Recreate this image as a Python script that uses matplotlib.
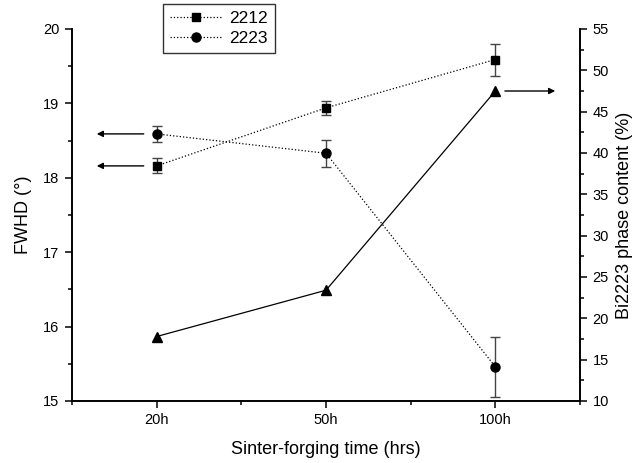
import matplotlib
matplotlib.use("Agg")
import matplotlib.pyplot as plt
from matplotlib.lines import Line2D
import numpy as np

plt.rcParams['font.family'] = ['Liberation Sans', 'DejaVu Sans']

# data
times = ["20h", "50h", "100h"]
fwhd_2212 = [18.16, 18.94, 19.59]
err_2212 = [0.10, 0.09, 0.215]
fwhd_2223 = [18.59, 18.33, 15.46]
err_2223 = [0.11, 0.18, 0.40]
bi2223 = [17.8, 23.4, 47.5]

x = np.arange(1, len(times) + 1)

fig = plt.figure(figsize=(6.39, 4.63), dpi=100)
ax = fig.add_axes([72/639, 1 - 401/463, (580-72)/639, (401-29)/463])
ax2 = ax.twinx()

ax.errorbar(x, fwhd_2212, yerr=err_2212, color='black', ls=':', lw=0.9,
            marker='s', ms=6, ecolor='#444444', elinewidth=1, capsize=3.5,
            capthick=1)
ax.errorbar(x, fwhd_2223, yerr=err_2223, color='black', ls=':', lw=0.9,
            marker='o', ms=6.5, ecolor='#444444', elinewidth=1, capsize=3.5,
            capthick=1)
ax2.plot(x, bi2223, color='black', ls='-', lw=0.9, marker='^', ms=7.5)

ax.set_xlim(0.5, 3.5)
ax.set_ylim(15, 20)
ax2.set_ylim(10, 55)

ax.set_xticks(x)
ax.set_xticklabels(times)
ax.set_xticks([0.5, 1.5, 2.5, 3.5], minor=True)
ax.set_yticks(np.arange(15, 21, 1))
ax.set_yticks(np.arange(15.5, 20, 1), minor=True)
ax2.set_yticks(np.arange(10, 56, 5))
ax2.set_yticks(np.arange(12.5, 55, 5), minor=True)

for a in (ax, ax2):
    a.spines['top'].set_visible(False)
    for s in a.spines.values():
        s.set_linewidth(1.2)
    a.tick_params(which='major', direction='out', length=5, width=1.1,
                  labelsize=10.5, pad=4)
    a.tick_params(which='minor', direction='out', length=3, width=1.1)

ax.set_xlabel("Sinter-forging time (hrs)", fontsize=13, labelpad=10)
ax.set_ylabel("FWHD (\u00b0)", fontsize=13, labelpad=8)
ax2.set_ylabel("Bi2223 phase content (%)", fontsize=13, labelpad=5)

# arrows pointing to the axes
arrow = dict(arrowstyle='-|>', color='black', lw=1, mutation_scale=9)
ax.annotate("", xy=(0.63, fwhd_2223[0]), xytext=(0.94, fwhd_2223[0]), arrowprops=arrow)
ax.annotate("", xy=(0.63, fwhd_2212[0]), xytext=(0.94, fwhd_2212[0]), arrowprops=arrow)
ax2.annotate("", xy=(3.37, bi2223[2]), xytext=(3.04, bi2223[2]), arrowprops=arrow)

handles = [Line2D([], [], color='black', ls=':', lw=0.9, marker='s', ms=6),
           Line2D([], [], color='black', ls=':', lw=0.9, marker='o', ms=6.5)]
leg = fig.legend(handles, ["2212", "2223"], loc='upper left',
                 bbox_to_anchor=(163/639, 1 - 4/463),
                 fontsize=12.5, fancybox=False, edgecolor='black',
                 handlelength=3.0, borderpad=0.4, labelspacing=0.3,
                 handletextpad=0.4, borderaxespad=0)
leg.get_frame().set_linewidth(1)

fig.savefig("out.png", dpi=100)
